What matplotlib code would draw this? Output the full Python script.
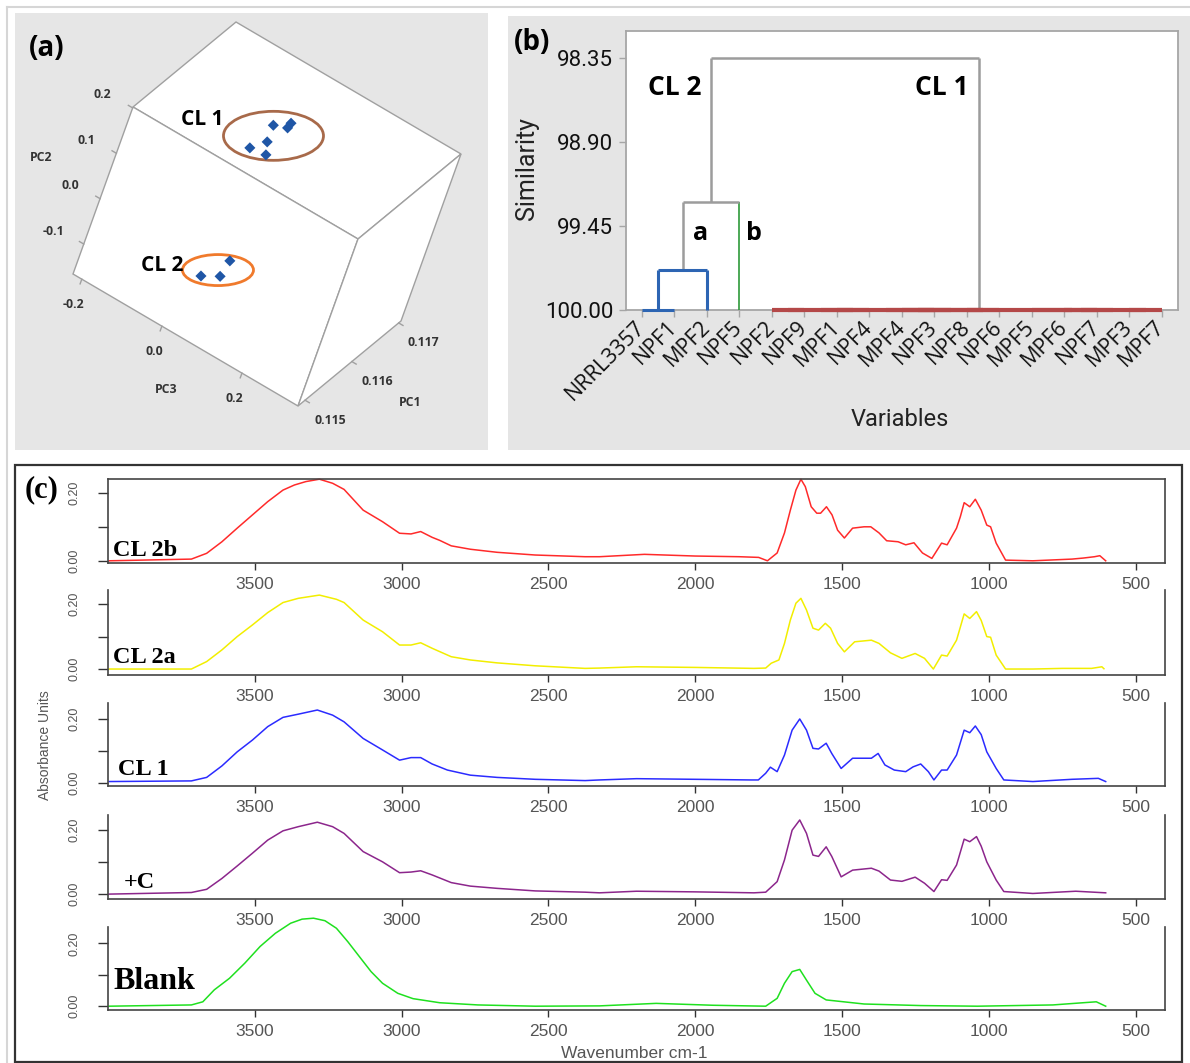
import numpy as np
import matplotlib
matplotlib.use("Agg")
import matplotlib.pyplot as plt
from matplotlib.patches import Rectangle, Ellipse, Polygon

# ---------------------------------------------------------------- data
# (a) PCA scores of the isolates (PC1, PC2, PC3)
CL1_PC1 = [0.11616, 0.11619, 0.11618, 0.11615, 0.11617, 0.11617]
CL1_PC2 = [0.161, 0.180, 0.169, 0.096, 0.123, 0.098]
CL1_PC3 = [-0.008, 0.025, 0.022, -0.039, -0.009, -0.002]
CL2_PC1 = [0.11551, 0.11549, 0.11553]
CL2_PC2 = [-0.054, -0.110, -0.095]
CL2_PC3 = [0.047, 0.000, 0.037]
PC1_TICKS = [0.115, 0.116, 0.117]
PC2_TICKS = [-0.1, 0.0, 0.1, 0.2]
PC3_TICKS = [-0.2, 0.0, 0.2]

# (b) dendrogram: leaf order and merge table (left node, right node, similarity)
LEAVES = ["NRRL3357", "NPF1", "MPF2", "NPF5", "NPF2", "NPF9", "MPF1", "NPF4",
          "MPF4", "NPF3", "NPF8", "NPF6", "MPF5", "MPF6", "NPF7", "MPF3", "MPF7"]
LEAF_GROUP = ["a", "a", "a", "b"] + ["CL1"] * 13
MERGE_LEFT = [0, 17, 4, 6, 8, 10, 19, 21, 23, 13, 15, 26, 12, 25, 18, 31]
MERGE_RIGHT = [1, 2, 5, 7, 9, 11, 20, 22, 24, 14, 16, 27, 28, 29, 3, 30]
MERGE_SIM = [100.00, 99.74, 100.00, 100.00, 100.00, 100.00, 100.00, 100.00,
             100.00, 100.00, 100.00, 100.00, 100.00, 100.00, 99.29, 98.35]
SIM_TICKS = [98.35, 98.90, 99.45, 100.00]

# (c) FTIR spectra: wavenumber (cm-1) and absorbance
WN_CL2B = [3996, 3716, 3664, 3612, 3560, 3508, 3456, 3404, 3365, 3326, 3280, 3235,
           3196, 3131, 3065, 3007, 2968, 2935, 2896, 2870, 2831, 2766, 2675, 2545,
           2375, 2326, 2173, 2000, 1850, 1784, 1754, 1721, 1696, 1676, 1657, 1640,
           1625, 1605, 1586, 1573, 1553, 1534, 1515, 1492, 1464, 1425, 1402, 1374,
           1348, 1309, 1283, 1255, 1226, 1194, 1161, 1142, 1110, 1097, 1084, 1065,
           1046, 1026, 1007, 994, 975, 943, 850, 717, 679, 640, 622, 602]
AB_CL2B = [0.000, 0.005, 0.022, 0.056, 0.096, 0.135, 0.174, 0.208, 0.223, 0.233, 0.240, 0.228,
           0.210, 0.149, 0.115, 0.081, 0.079, 0.086, 0.069, 0.060, 0.044, 0.034, 0.025, 0.017,
           0.012, 0.012, 0.019, 0.014, 0.012, 0.010, 0.000, 0.023, 0.082, 0.149, 0.208, 0.240,
           0.218, 0.159, 0.140, 0.140, 0.159, 0.135, 0.090, 0.067, 0.096, 0.100, 0.100, 0.082,
           0.059, 0.056, 0.047, 0.053, 0.023, 0.007, 0.052, 0.047, 0.096, 0.130, 0.171, 0.159,
           0.181, 0.149, 0.105, 0.100, 0.052, 0.002, 0.000, 0.005, 0.008, 0.012, 0.015, 0.000]

WN_CL2A = [3996, 3716, 3664, 3612, 3560, 3508, 3456, 3404, 3352, 3280, 3222, 3196,
           3131, 3065, 3007, 2968, 2935, 2896, 2831, 2766, 2675, 2545, 2375, 2326,
           2200, 2000, 1800, 1760, 1741, 1715, 1696, 1676, 1657, 1640, 1621, 1599,
           1580, 1557, 1539, 1515, 1492, 1457, 1400, 1374, 1335, 1296, 1251, 1219,
           1189, 1161, 1142, 1110, 1084, 1065, 1042, 1026, 1007, 994, 975, 943,
           850, 750, 650, 615, 608]
AB_CL2A = [0.000, 0.000, 0.023, 0.059, 0.100, 0.136, 0.174, 0.205, 0.218, 0.228, 0.215, 0.205,
           0.151, 0.115, 0.074, 0.074, 0.081, 0.064, 0.038, 0.028, 0.019, 0.010, 0.002, 0.003,
           0.007, 0.005, 0.002, 0.003, 0.018, 0.028, 0.079, 0.151, 0.203, 0.218, 0.182, 0.126,
           0.120, 0.141, 0.126, 0.079, 0.053, 0.084, 0.089, 0.079, 0.050, 0.033, 0.048, 0.033,
           0.000, 0.043, 0.040, 0.089, 0.170, 0.156, 0.177, 0.150, 0.100, 0.098, 0.043, 0.000,
           0.000, 0.002, 0.002, 0.007, 0.001]

WN_CL1 = [3996, 3716, 3664, 3612, 3560, 3508, 3456, 3404, 3352, 3287, 3235, 3196,
          3131, 3065, 3007, 2968, 2935, 2896, 2844, 2766, 2675, 2545, 2375, 2326,
          2200, 2000, 1811, 1785, 1760, 1744, 1721, 1696, 1670, 1644, 1621, 1599,
          1580, 1554, 1535, 1503, 1464, 1400, 1377, 1354, 1322, 1283, 1258, 1232,
          1206, 1187, 1161, 1142, 1110, 1084, 1065, 1046, 1026, 1007, 975, 949,
          850, 717, 627, 602]
AB_CL1 = [0.003, 0.005, 0.016, 0.052, 0.096, 0.133, 0.175, 0.204, 0.214, 0.227, 0.211, 0.190,
          0.138, 0.102, 0.070, 0.078, 0.078, 0.058, 0.039, 0.023, 0.016, 0.010, 0.006, 0.008,
          0.012, 0.010, 0.008, 0.008, 0.029, 0.048, 0.034, 0.086, 0.164, 0.199, 0.164, 0.107,
          0.105, 0.123, 0.091, 0.044, 0.076, 0.076, 0.091, 0.055, 0.039, 0.034, 0.049, 0.058,
          0.034, 0.008, 0.039, 0.039, 0.086, 0.164, 0.156, 0.177, 0.150, 0.096, 0.044, 0.008,
          0.003, 0.010, 0.013, 0.003]

WN_POS = [3996, 3716, 3664, 3612, 3560, 3508, 3456, 3404, 3352, 3287, 3235, 3196,
          3131, 3065, 3007, 2968, 2935, 2896, 2831, 2766, 2675, 2545, 2375, 2326,
          2200, 2000, 1800, 1760, 1721, 1696, 1670, 1644, 1621, 1599, 1580, 1554,
          1535, 1503, 1464, 1400, 1374, 1335, 1296, 1251, 1219, 1187, 1161, 1142,
          1110, 1084, 1065, 1042, 1026, 1007, 975, 949, 850, 704, 602]
AB_POS = [0.000, 0.005, 0.015, 0.049, 0.088, 0.128, 0.169, 0.198, 0.211, 0.225, 0.211, 0.190,
          0.133, 0.101, 0.067, 0.069, 0.073, 0.060, 0.036, 0.025, 0.018, 0.010, 0.006, 0.004,
          0.009, 0.007, 0.004, 0.006, 0.039, 0.107, 0.200, 0.232, 0.190, 0.122, 0.118, 0.148,
          0.118, 0.054, 0.075, 0.081, 0.072, 0.044, 0.040, 0.053, 0.034, 0.008, 0.045, 0.043,
          0.091, 0.172, 0.164, 0.180, 0.150, 0.101, 0.044, 0.008, 0.002, 0.009, 0.004]

WN_BLANK = [3996, 3716, 3677, 3638, 3586, 3534, 3482, 3430, 3378, 3339, 3300, 3261,
            3222, 3183, 3144, 3104, 3065, 3013, 2961, 2870, 2740, 2545, 2326, 2133,
            1940, 1760, 1721, 1696, 1670, 1644, 1621, 1592, 1554, 1425, 1232, 1039,
            782, 679, 634, 602]
AB_BLANK = [0.000, 0.004, 0.014, 0.052, 0.089, 0.137, 0.190, 0.232, 0.264, 0.277, 0.280, 0.272,
            0.248, 0.205, 0.158, 0.110, 0.073, 0.041, 0.024, 0.011, 0.004, 0.000, 0.001, 0.009,
            0.003, 0.000, 0.025, 0.073, 0.110, 0.117, 0.083, 0.041, 0.020, 0.007, 0.002, 0.000,
            0.004, 0.011, 0.014, 0.000]

SPECTRUM_NAMES = ["CL 2b", "CL 2a", "CL 1", "+C", "Blank"]
WAVENUMBER_TICKS = [3500, 3000, 2500, 2000, 1500, 1000, 500]

# ---------------------------------------------------------------- figure
W, H = 1190, 1063
fig = plt.figure(figsize=(W / 100, H / 100), dpi=100)
fig.patch.set_facecolor("white")


def px_axes(x0, y0, x1, y1, **kw):
    """Axes placed by its pixel box (origin top-left)."""
    return fig.add_axes([x0 / W, 1 - y1 / H, (x1 - x0) / W, (y1 - y0) / H], **kw)


def bare(ax, face):
    ax.set_facecolor(face)
    ax.set_xticks([])
    ax.set_yticks([])
    for s in ax.spines.values():
        s.set_visible(False)


# background layer (pixel coordinates)
bg = px_axes(0, 0, W, H, zorder=0)
bg.set_xlim(0, W)
bg.set_ylim(H, 0)
bg.axis("off")
bg.plot([7, W], [6.5, 6.5], color="#d6d6d6", lw=1.5)
bg.plot([7, 7], [6.5, H], color="#d6d6d6", lw=1.5)
bg.add_patch(Rectangle((508, 16), W - 508, 434, facecolor="#e5e5e5", edgecolor="none"))
bg.add_patch(Rectangle((15, 464.5), 1167, 597, facecolor="none", edgecolor="#333333", lw=1.6))

# ---------------------------------------------------------------- (a) 3D PCA box
pa = px_axes(15, 13, 488, 450, zorder=1)
bare(pa, "#e6e6e6")
pa.set_xlim(15, 488)
pa.set_ylim(450, 13)

# oblique view of the PC1/PC2/PC3 box
PC_LIMS = [(0.11485, 0.11705), (-0.166, 0.202), (-0.222, 0.34)]
VIEW_ORIGIN = np.array([73.0, 274.0])
VIEW_AXES = np.array([[103.0, -85.0], [60.0, -167.0], [225.0, 132.0]])


def project(p1, p2, p3):
    frac = [(np.asarray(v, float) - lo) / (hi - lo) for v, (lo, hi) in zip((p1, p2, p3), PC_LIMS)]
    x = VIEW_ORIGIN[0] + sum(f * VIEW_AXES[i, 0] for i, f in enumerate(frac))
    y = VIEW_ORIGIN[1] + sum(f * VIEW_AXES[i, 1] for i, f in enumerate(frac))
    return x, y


(l1, h1), (l2, h2), (l3, h3) = PC_LIMS
faces = [
    [(l1, h2, l3), (h1, h2, l3), (h1, h2, h3), (l1, h2, h3)],   # top
    [(l1, l2, l3), (l1, h2, l3), (l1, h2, h3), (l1, l2, h3)],   # front
    [(l1, l2, h3), (l1, h2, h3), (h1, h2, h3), (h1, l2, h3)],   # side
]
for face in faces:
    pts = [project(*c) for c in face]
    pa.add_patch(Polygon(pts, closed=True, facecolor="white", edgecolor="#a0a0a0", lw=1.0, zorder=2))

unit = VIEW_AXES / np.linalg.norm(VIEW_AXES, axis=1)[:, None]
tick_kw = dict(color="#a0a0a0", lw=1.0, zorder=3)
lab_kw = dict(fontsize=8.8, fontweight="bold", color="#333333", family="Open Sans",
              ha="center", va="center", zorder=4)
for v in PC2_TICKS:
    x, y = project(l1, v, l3)
    pa.plot([x, x - 5 * unit[2, 0]], [y, y - 5 * unit[2, 1]], **tick_kw)
    pa.text(x - 30, y - 13, f"{v:.1f}", **lab_kw)
for v in PC3_TICKS:
    x, y = project(l1, l2, v)
    pa.plot([x, x - 5 * unit[1, 0]], [y, y - 5 * unit[1, 1]], **tick_kw)
    pa.text(x - 8, y + 25, f"{v:.1f}", **lab_kw)
for v in PC1_TICKS:
    x, y = project(v, l2, h3)
    pa.plot([x, x + 5 * unit[2, 0]], [y, y + 5 * unit[2, 1]], **tick_kw)
    pa.text(x + 25, y + 20, f"{v:.3f}", **lab_kw)
x, y = project(l1, 0.06, l3)
pa.text(x - 69, y - 14, "PC2", **lab_kw)
x, y = project(l1, l2, 0.1)
pa.text(x - 36, y + 40, "PC3", **lab_kw)
x, y = project(0.1165, l2, h3)
pa.text(x + 35, y + 60, "PC1", **lab_kw)

cluster_sets = [
    ("CL 1", CL1_PC1, CL1_PC2, CL1_PC3, "#a86a4a", 100, 49, (-50, -16)),
    ("CL 2", CL2_PC1, CL2_PC2, CL2_PC3, "#f07a2c", 71, 31, (-35, -5)),
]
for name, p1, p2, p3, ecol, ew, eh, (dx, dy) in cluster_sets:
    xs, ys = project(p1, p2, p3)
    pa.scatter(xs, ys, marker="D", s=32, color="#1f56a6", edgecolors="none", zorder=6)
    cx, cy = xs.mean() + 1, ys.mean() - 1
    pa.add_patch(Ellipse((cx, cy), ew, eh, facecolor="none", edgecolor=ecol, lw=2.0, zorder=5))
    pa.text(cx + dx, cy + dy, name, ha="right", va="center", fontsize=15,
            fontweight="bold", family="Open Sans", color="black", zorder=7)

pa.text(47, 48, "(a)", ha="center", va="center", fontsize=20, fontweight="bold",
        family="Open Sans", color="black", zorder=7)

# ---------------------------------------------------------------- (b) dendrogram
pb = px_axes(625.7, 31, 1178, 310, zorder=2)
pb.set_facecolor("white")
pb.set_xlim(-0.5, len(LEAVES) - 0.5)
pb.set_ylim(100.0, 98.173)
for s in pb.spines.values():
    s.set_color("#a6a6a6")
    s.set_linewidth(1.3)

GRAY = "#9c9c9c"
GROUP_COLORS = {"a": "#2d65b3", "b": "#2e9a3a", "CL1": "#b44848"}
GROUP_LW = {"a": 2.2, "b": 1.2, "CL1": 3.0}

n = len(LEAVES)
pos = list(range(n))
height = [100.0] * n
members = [{i} for i in range(n)]
for l, r, s in zip(MERGE_LEFT, MERGE_RIGHT, MERGE_SIM):
    groups = {LEAF_GROUP[i] for i in members[l] | members[r]}
    if len(groups) == 1:
        g = groups.pop()
        link_col, link_lw = GROUP_COLORS[g], GROUP_LW[g]
    else:
        link_col, link_lw = GRAY, 1.8
    for child in (l, r):
        if link_col != GRAY:
            vc, vl = link_col, link_lw
        elif child < n:
            vc, vl = GROUP_COLORS[LEAF_GROUP[child]], GROUP_LW[LEAF_GROUP[child]]
        else:
            vc, vl = GRAY, 1.8
        pb.plot([pos[child], pos[child]], [height[child], s], color=vc, lw=vl,
                solid_capstyle="butt", clip_on=False, zorder=3)
    pb.plot([pos[l], pos[r]], [s, s], color=link_col, lw=link_lw,
            solid_capstyle="butt", clip_on=False, zorder=3 if link_col == GRAY else 4)
    pos.append((pos[l] + pos[r]) / 2)
    height.append(s)
    members.append(members[l] | members[r])

pb.set_yticks(SIM_TICKS)
pb.set_yticklabels([f"{v:.2f}" for v in SIM_TICKS], family="Roboto", fontsize=16,
                   color="#111111")
pb.set_xticks(range(n))
pb.set_xticklabels(LEAVES, rotation=45, ha="right", va="center", rotation_mode="anchor",
                   family="Open Sans", fontsize=15.5, color="#111111")
pb.tick_params(axis="both", direction="out", length=5, width=1, color="#a6a6a6")
pb.tick_params(axis="x", pad=5)
pb.tick_params(axis="y", pad=4)

dk = dict(fontweight="bold", family="Open Sans", color="black", ha="center", va="center")
pb.text(1.01, 98.54, "CL 2", fontsize=19, **dk)
pb.text(9.22, 98.54, "CL 1", fontsize=19, **dk)
pb.text(1.81, 99.50, "a", fontsize=18, **dk)
pb.text(3.44, 99.50, "b", fontsize=18, **dk)

fig.text(527 / W, 1 - 168 / H, "Similarity", rotation=90, ha="center", va="center",
         family="Roboto", fontsize=18, color="#222222")
fig.text(900 / W, 1 - 420 / H, "Variables", ha="center", va="center",
         family="Roboto", fontsize=17, color="#222222")
fig.text(532 / W, 1 - 42 / H, "(b)", ha="center", va="center", fontsize=20,
         fontweight="bold", family="Open Sans", color="black", zorder=5)

# ---------------------------------------------------------------- (c) FTIR spectra
spectra = [
    (WN_CL2B, AB_CL2B, "#ff2a2a"),
    (WN_CL2A, AB_CL2A, "#f2ee00"),
    (WN_CL1, AB_CL1, "#2b2bff"),
    (WN_POS, AB_POS, "#8c268c"),
    (WN_BLANK, AB_BLANK, "#1fe01f"),
]
sub_boxes = [(479, 562.7), (589.9, 675.2), (703, 786.4), (814.7, 898.8), (927, 1010)]
sub_ylims = [(-0.0056, 0.2406), (-0.019, 0.244), (-0.0122, 0.249), (-0.0147, 0.2485),
             (-0.0121, 0.252)]
name_pos = [(0.005, 0.082, 17.5), (0.005, 0.143, 17.5), (0.009, 0.137, 17.5),
            (0.015, 0.128, 17.5), (0.005, 0.253, 23)]

for i, ((wn, ab, col), (y0, y1), ylim, name, (tx, ty, fs)) in enumerate(
        zip(spectra, sub_boxes, sub_ylims, SPECTRUM_NAMES, name_pos)):
    ax = px_axes(108, y0, 1165, y1, zorder=3)
    ax.set_facecolor("none")
    ax.plot(wn, ab, color=col, lw=1.1, clip_on=False)
    ax.set_xlim(4000, 400)
    ax.set_ylim(*ylim)
    ax.set_xticks(WAVENUMBER_TICKS)
    ax.set_xticklabels([str(t) for t in WAVENUMBER_TICKS], family="Liberation Sans",
                       fontsize=12.5, color="#555555")
    ax.set_yticks([0.0, 0.1, 0.2])
    ax.set_yticklabels(["0.00", "", "0.20"], family="Liberation Sans", fontsize=9,
                       color="#555555", rotation=90, va="center")
    ax.tick_params(axis="x", direction="out", length=5, width=1, color="#333333", pad=5)
    ax.tick_params(axis="y", direction="out", length=7, width=1, color="#333333", pad=13)
    for side, s in ax.spines.items():
        s.set_color("#444444")
        s.set_linewidth(1.2)
    if i > 0:
        ax.spines["top"].set_visible(False)
    ax.text(tx, ty, name, transform=ax.transAxes, ha="left", va="baseline",
            family="Liberation Serif", fontweight="bold", fontsize=fs, color="black")

fig.text(45 / W, 1 - 745 / H, "Absorbance Units", rotation=90, ha="center", va="center",
         family="Liberation Sans", fontsize=10, color="#555555")
fig.text(634 / W, 1 - 1053 / H, "Wavenumber cm-1", ha="center", va="center",
         family="Liberation Sans", fontsize=12.5, color="#555555")
fig.text(42 / W, 1 - 490 / H, "(c)", ha="center", va="center", family="Liberation Serif",
         fontweight="bold", fontsize=22, color="black")

fig.savefig("out.png", dpi=100)
